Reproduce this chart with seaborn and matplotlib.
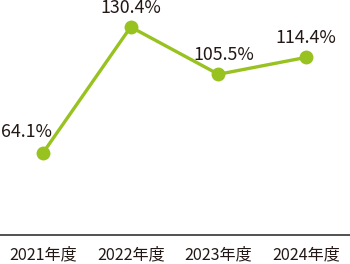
import matplotlib
matplotlib.use("Agg")
import matplotlib.pyplot as plt
import seaborn as sns
import pandas as pd

years = ["2021年度", "2022年度", "2023年度", "2024年度"]
values = [64.1, 130.4, 105.5, 114.4]
labels = ["64.1%", "130.4%", "105.5%", "114.4%"]

sns.set_style("white")
plt.rcParams['font.family'] = ['Noto Sans CJK JP', 'DejaVu Sans']

color = "#98c21f"
df = pd.DataFrame({"x": range(len(years)), "v": values})

fig = plt.figure(figsize=(3.5, 2.64), dpi=100)
ax = fig.add_axes([0, 29/264, 1, 1 - 29/264])
sns.lineplot(data=df, x="x", y="v", ax=ax, color=color, linewidth=2.4,
             marker="o", markersize=10, markeredgewidth=0, markerfacecolor=color)

offsets = [(-16, 16), (0, 14), (5, 14), (0, 14)]
for i, (v, lab) in enumerate(zip(values, labels)):
    dx, dy = offsets[i]
    ax.annotate(lab, (i, v), xytext=(dx * 0.72, dy * 0.72), textcoords="offset points",
                ha="center", va="baseline", fontsize=12.8, color="#231815",
                annotation_clip=False)

ax.set_xlim(-0.49, 3.5)
ax.set_ylim(20.9, 144.6)
ax.set_xticks(range(len(years)))
ax.set_xticklabels(years, fontsize=11.6, color="#231815")
ax.set_yticks([])
ax.set_xlabel("")
ax.set_ylabel("")
for s in ["top", "left", "right"]:
    ax.spines[s].set_visible(False)
ax.spines["bottom"].set_color("#333333")
ax.spines["bottom"].set_linewidth(1.2)
ax.tick_params(axis="x", length=0, pad=8)

fig.savefig("out.png", dpi=100)
